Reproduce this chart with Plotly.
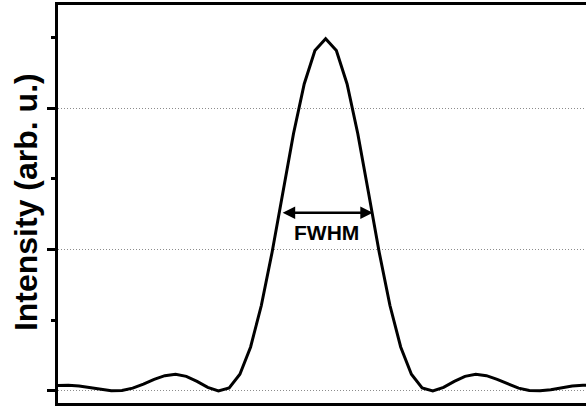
import plotly.graph_objects as go

# Sample positions (arbitrary x units; top-axis ticks at integers)
x_pos = [-0.01, 0.07, 0.15, 0.23, 0.31, 0.39, 0.47, 0.55, 0.63, 0.71,
         0.79, 0.87, 0.95, 1.03, 1.11, 1.19, 1.27, 1.35, 1.43, 1.51,
         1.59, 1.67, 1.75, 1.83, 1.91, 1.99, 2.07, 2.15, 2.23, 2.31,
         2.39, 2.47, 2.55, 2.63, 2.71, 2.79, 2.87, 2.95, 3.03, 3.11,
         3.19, 3.27, 3.35, 3.43, 3.51, 3.59, 3.67, 3.75, 3.83, 3.91, 3.99]

# Intensity (arb. u.)
intensity = [0.039, 0.041, 0.035, 0.022, 0.009, 0.001, 0.003, 0.020, 0.049, 0.082,
             0.108, 0.118, 0.103, 0.068, 0.026, 0.001, 0.022, 0.118, 0.311, 0.604,
             0.979, 1.401, 1.818, 2.170, 2.407, 2.490, 2.407, 2.170, 1.818, 1.401,
             0.979, 0.604, 0.311, 0.118, 0.022, 0.001, 0.026, 0.068, 0.103, 0.118,
             0.108, 0.082, 0.049, 0.020, 0.003, 0.001, 0.009, 0.022, 0.035, 0.041, 0.039]

fwhm_left = 1.658
fwhm_right = 2.342
half_max = 1.26
y_title = "Intensity (arb. u.)"
fwhm_label = "FWHM"

FONT = "Liberation Sans, Arial, sans-serif"

fig = go.Figure()
fig.add_trace(go.Scatter(x=x_pos, y=intensity, mode="lines",
                         line=dict(color="black", width=3), showlegend=False,
                         hoverinfo="skip"))

fig.add_annotation(x=fwhm_right, y=half_max, ax=fwhm_left, ay=half_max,
                   xref="x", yref="y", axref="x", ayref="y", text="",
                   showarrow=True, arrowside="end+start", arrowhead=2,
                   arrowsize=1, arrowwidth=2.5, arrowcolor="black")
fig.add_annotation(x=(fwhm_left + fwhm_right) / 2, y=1.117, xref="x", yref="y",
                   text=fwhm_label, showarrow=False,
                   font=dict(family=FONT, size=21, color="black", weight="bold"))
fig.add_annotation(x=-0.0604, y=0.505, xref="paper", yref="paper",
                   text=y_title, textangle=-90, showarrow=False,
                   xanchor="center", yanchor="middle",
                   font=dict(family=FONT, size=32, color="black", weight="bold"))

fig.update_xaxes(range=[-0.0074, 3.933], showline=True, linewidth=3, linecolor="black",
                 mirror=True, ticks="", showticklabels=False,
                 showgrid=False, zeroline=False)
fig.update_yaxes(range=[-0.085, 2.728], showline=True, linewidth=3, linecolor="black",
                 mirror=False, ticks="outside", ticklen=8, tickwidth=3,
                 tickcolor="black", tick0=0, dtick=1, showticklabels=False,
                 showgrid=True, gridcolor="#8c8c8c", gridwidth=1, griddash="1px,2px",
                 zeroline=False,
                 minor=dict(ticks="outside", ticklen=4, tickwidth=3, tickcolor="black",
                            dtick=0.5, tick0=0, showgrid=False))

fig.update_layout(width=586, height=410, margin=dict(l=58, r=0, t=5, b=7),
                  paper_bgcolor="white", plot_bgcolor="white")

fig.write_html("out.html", config={"displayModeBar": False},
               post_script="document.body.style.margin='0';document.body.style.overflow='hidden';")
